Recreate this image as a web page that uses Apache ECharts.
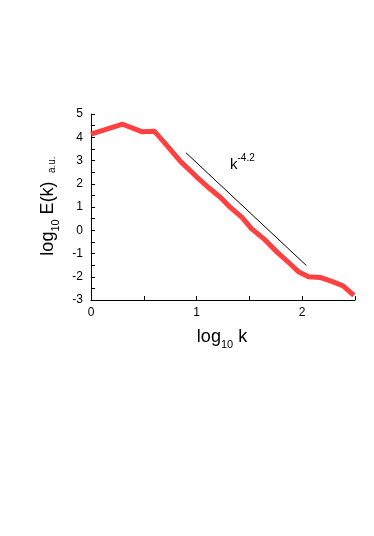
<!DOCTYPE html>
<html><head><meta charset="utf-8">
<script src="https://cdn.jsdelivr.net/npm/echarts@6/dist/echarts.min.js"></script>
<style>html,body{margin:0;padding:0;background:#fff}#c{width:374px;height:536px}</style>
</head><body><div id="c"></div>
<script>
var logK = [0.0, 0.30, 0.48, 0.60, 0.70, 0.85, 1.0, 1.11, 1.23, 1.32, 1.43, 1.52, 1.64, 1.76, 1.88, 1.97, 2.06, 2.17, 2.30, 2.39, 2.49];
var logE = [4.13, 4.56, 4.24, 4.26, 3.75, 2.95, 2.3, 1.85, 1.4, 0.98, 0.55, 0.07, -0.38, -0.93, -1.42, -1.8, -2.0, -2.03, -2.23, -2.40, -2.80];
var fitX = [0.9, 2.04];
var fitY = [3.33, -1.52];
var xTicks = [0, 1, 2];
var yTicks = [5, 4, 3, 2, 1, 0, -1, -2, -3];
var slopeLabel = '-4.2';

var chart = echarts.init(document.getElementById('c'), null, {renderer: 'canvas'});
var font = 'Liberation Sans, Arial, sans-serif';
function fmt(list){ return function(v){ var r = Math.round(v*100)/100; return list.indexOf(r) >= 0 ? String(r) : ''; }; }
chart.setOption({
  animation: false,
  grid: {left: 91, right: 19, top: 114, bottom: 236},
  xAxis: {
    type: 'value', min: 0, max: 2.5, interval: 0.5,
    axisLine: {onZero: false, lineStyle: {color: '#000', width: 1}},
    axisTick: {inside: true, length: 4, lineStyle: {color: '#000'}},
    axisLabel: {color: '#000', fontSize: 12, fontFamily: font, margin: 7, formatter: fmt(xTicks)},
    splitLine: {show: false}
  },
  yAxis: {
    type: 'value', min: -3, max: 5, interval: 0.5,
    axisLine: {show: true, onZero: false, lineStyle: {color: '#000', width: 1}},
    axisTick: {show: true, inside: true, length: 4, lineStyle: {color: '#000'}},
    axisLabel: {color: '#000', fontSize: 12, fontFamily: font, margin: 8, formatter: fmt(yTicks)},
    splitLine: {show: false}
  },
  series: [
    {
      type: 'line', data: logK.map(function(x,i){return [x, logE[i]];}),
      symbol: 'none', lineStyle: {color: '#ff4040', width: 5, join: 'round'}, z: 3
    },
    {
      type: 'line', data: fitX.map(function(x,i){return [x, fitY[i]];}),
      symbol: 'none', lineStyle: {color: '#000', width: 1}, z: 4
    }
  ],
  graphic: [
    {
      type: 'text', x: 230, y: 172,
      style: {
        text: '{b|k}{s|' + slopeLabel + '}',
        align: 'left', verticalAlign: 'bottom',
        rich: {
          b: {fontSize: 15, fontFamily: font, fill: '#000', verticalAlign: 'bottom'},
          s: {fontSize: 10, fontFamily: font, fill: '#000', verticalAlign: 'top', padding: [0,0,9,0]}
        }
      }
    },
    {
      type: 'text', x: 222, y: 337,
      style: {
        text: '{m|log}{sub|10}{m| k}',
        align: 'center', verticalAlign: 'middle',
        rich: {
          m: {fontSize: 18, fontFamily: font, fill: '#000', verticalAlign: 'bottom'},
          sub: {fontSize: 11, fontFamily: font, fill: '#000', verticalAlign: 'bottom', padding: [0,0,-4,0]}
        }
      }
    },
    {
      type: 'text', x: 48, y: 206, rotation: Math.PI/2,
      style: {
        text: '{m|log}{sub|10}{m| E(k)}{u|   a.u.}',
        align: 'center', verticalAlign: 'middle',
        rich: {
          m: {fontSize: 18, fontFamily: font, fill: '#000', verticalAlign: 'bottom'},
          sub: {fontSize: 11, fontFamily: font, fill: '#000', verticalAlign: 'bottom', padding: [0,0,-4,0]},
          u: {fontSize: 10, fontFamily: font, fill: '#000', verticalAlign: 'bottom'}
        }
      }
    }
  ]
});
</script>
</body></html>
